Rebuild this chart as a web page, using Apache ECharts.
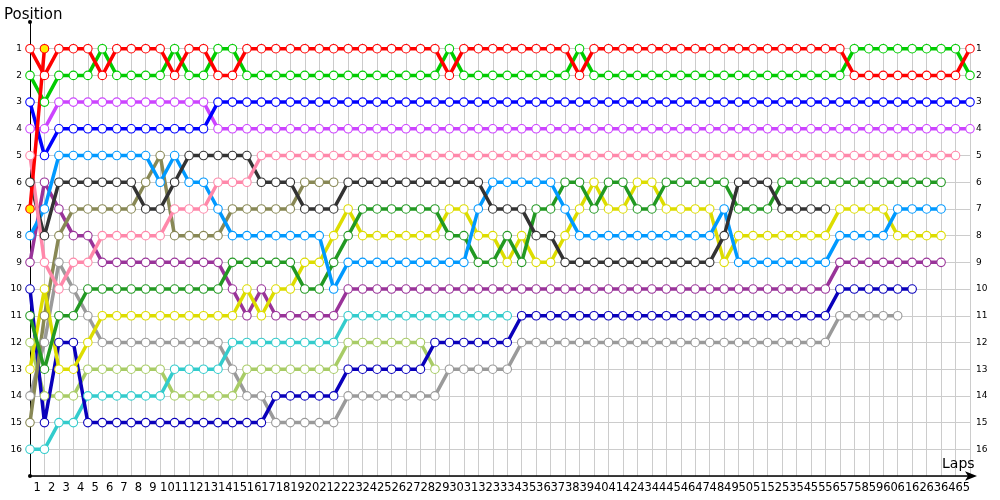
<!DOCTYPE html>
<html><head><meta charset="utf-8">
<script src="https://cdn.jsdelivr.net/npm/echarts@6/dist/echarts.min.js"></script>
<style>html,body{margin:0;padding:0;background:#fff}#c{width:1000px;height:500px}</style>
</head><body><div id="c"></div>
<script>
const lapLabels = ['1','2','3','4','5','6','7','8','9','10','11','12','13','14','15','16','17','18','19','20',
'21','22','23','24','25','26','27','28','29','30','31','32','33','34','35','36','37','38','39','40',
'41','42','43','44','45','46','47','48','49','50','51','52','53','54','55','56','57','58','59','60',
'61','62','63','64','65'];
const positionLabels = ['1','2','3','4','5','6','7','8','9','10','11','12','13','14','15','16'];

// positions per lap, starting at lap 0 (grid)
const redA = [1,2,1,1,1,2,1,1,1,1, 2,1,1,2,2,1,1,1,1,1, 1,1,1,1,1,1,1,1,1,2, 1,1,1,1,1,1,1,1,2,1,
  1,1,1,1,1,1,1,1,1,1, 1,1,1,1,1,1,1,2,2,2, 2,2,2,2,2,1];
const green = [2,3,2,2,2,1,2,2,2,2, 1,2,2,1,1,2,2,2,2,2, 2,2,2,2,2,2,2,2,2,1, 2,2,2,2,2,2,2,2,1,2,
  2,2,2,2,2,2,2,2,2,2, 2,2,2,2,2,2,2,1,1,1, 1,1,1,1,1,2];
const blue = [3,5,4,4,4,4,4,4,4,4, 4,4,4,3,3,3,3,3,3,3, 3,3,3,3,3,3,3,3,3,3, 3,3,3,3,3,3,3,3,3,3,
  3,3,3,3,3,3,3,3,3,3, 3,3,3,3,3,3,3,3,3,3, 3,3,3,3,3,3];
const violet = [4,4,3,3,3,3,3,3,3,3, 3,3,3,4,4,4,4,4,4,4, 4,4,4,4,4,4,4,4,4,4, 4,4,4,4,4,4,4,4,4,4,
  4,4,4,4,4,4,4,4,4,4, 4,4,4,4,4,4,4,4,4,4, 4,4,4,4,4,4];
const pink = [5,9,10,9,9,8,8,8,8,8, 7,7,7,6,6,6,5,5,5,5, 5,5,5,5,5,5,5,5,5,5, 5,5,5,5,5,5,5,5,5,5,
  5,5,5,5,5,5,5,5,5,5, 5,5,5,5,5,5,5,5,5,5, 5,5,5,5,5];
const black = [6,8,6,6,6,6,6,6,7,7, 6,5,5,5,5,5,6,6,6,7, 7,7,6,6,6,6,6,6,6,6, 6,6,7,7,7,8,8,9,9,9,
  9,9,9,9,9,9,9,9,8,6, 6,6,7,7,7,7];
const lightBlue = [8,7,5,5,5,5,5,5,5,6, 5,6,6,7,8,8,8,8,8,8, 8,10,9,9,9,9,9,9,9,9, 9,7,6,6,6,6,6,7,8,8,
  8,8,8,8,8,8,8,8,7,9, 9,9,9,9,9,9,8,8,8,8, 7,7,7,7];
const olive = [15,11,8,7,7,7,7,7,6,5, 8,8,8,8,7,7,7,7,7,6, 6,6];
const darkPurple = [9,6,7,8,8,9,9,9,9,9, 9,9,9,9,10,11,10,11,11,11, 11,11,10,10,10,10,10,10,10,10,
  10,10,10,10,10,10,10,10,10,10, 10,10,10,10,10,10,10,10,10,10, 10,10,10,10,10,10,9,9,9,9, 9,9,9,9];
const darkGreen = [11,13,11,11,10,10,10,10,10,10, 10,10,10,10,9,9,9,9,9,10, 10,9,8,7,7,7,7,7,7,8,
  8,9,9,8,9,7,7,6,6,7, 6,6,7,7,6,6,6,6,6,7, 7,7,6,6,6,6,6,6,6,6, 6,6,6,6];
const yellow = [13,10,13,13,12,11,11,11,11,11, 11,11,11,11,11,10,11,10,10,9, 9,8,7,8,8,8,8,8,8,7,
  7,8,8,9,8,9,9,8,7,6, 7,7,6,6,7,7,7,7,9,8, 8,8,8,8,8,8,7,7,7,7, 8,8,8,8];
const navy = [10,15,12,12,15,15,15,15,15,15, 15,15,15,15,15,15,15,14,14,14, 14,14,13,13,13,13,13,13,12,12,
  12,12,12,12,11,11,11,11,11,11, 11,11,11,11,11,11,11,11,11,11, 11,11,11,11,11,11,10,10,10,10, 10,10];
const gray = [14,12,9,10,11,12,12,12,12,12, 12,12,12,12,13,14,14,15,15,15, 15,15,14,14,14,14,14,14,14,13,
  13,13,13,13,12,12,12,12,12,12, 12,12,12,12,12,12,12,12,12,12, 12,12,12,12,12,12,11,11,11,11, 11];
const cyan = [16,16,15,15,14,14,14,14,14,14, 13,13,13,13,12,12,12,12,12,12, 12,12,11,11,11,11,11,11,11,11,
  11,11,11,11];
const lightGreen = [12,14,14,14,13,13,13,13,13,13, 14,14,14,14,14,13,13,13,13,13, 13,13,12,12,12,12,12,12,13];
const redB = [7,1];

const drivers = [
  {name:'Grey', color:'#9a9a9a', laps:gray},
  {name:'Light green', color:'#a8cc66', laps:lightGreen},
  {name:'Cyan', color:'#33cccc', laps:cyan},
  {name:'Navy', color:'#0a00bb', laps:navy},
  {name:'Dark purple', color:'#993399', laps:darkPurple},
  {name:'Olive', color:'#888855', laps:olive},
  {name:'Yellow', color:'#dddd00', laps:yellow},
  {name:'Dark green', color:'#229922', laps:darkGreen},
  {name:'Light blue', color:'#0099ff', laps:lightBlue},
  {name:'Black', color:'#333333', laps:black},
  {name:'Pink', color:'#ff88aa', laps:pink},
  {name:'Violet', color:'#cc44ff', laps:violet},
  {name:'Blue', color:'#0000ff', laps:blue},
  {name:'Green', color:'#00cc00', laps:green},
  {name:'Red', color:'#ff0000', laps:redA},
  {name:'Red 2', color:'#ff0000', laps:redB, fill:'#ffee00'}
];

const splitColors = ['rgba(0,0,0,0)'];
for (let i = 1; i <= 17; i++) splitColors.push('#cccccc');
const posFmt = v => positionLabels[v - 1] || '';

const chart = echarts.init(document.getElementById('c'), null, {renderer:'canvas'});
chart.setOption({
  animation: false,
  backgroundColor: '#ffffff',
  title: [
    {text:'Position', left:4, top:8, padding:0, textStyle:{fontSize:15, fontWeight:'normal', color:'#000', fontFamily:'DejaVu Sans'}},
    {text:'Laps', left:942, top:457, padding:0, textStyle:{fontSize:14, fontWeight:'normal', color:'#000', fontFamily:'DejaVu Sans'}}
  ],
  grid: [
    {left:30, right:30, top:43, bottom:24},
    {left:30, right:30, top:22, bottom:24}
  ],
  xAxis: [
    {gridIndex:0, type:'value', min:0, max:65, interval:1,
     axisLine:{show:true, onZero:false, lineStyle:{color:'#000', width:1.5}, symbol:['none','arrow'], symbolSize:[7,12], symbolOffset:[0,7]},
     axisTick:{show:false}, axisLabel:{show:false},
     splitLine:{show:true, lineStyle:{color:'#cccccc', width:1}}},
    {gridIndex:1, type:'value', min:0, max:65, show:false},
    {gridIndex:1, type:'category', data:lapLabels, boundaryGap:true, position:'bottom',
     axisLine:{show:false}, axisTick:{show:false}, splitLine:{show:false},
     axisLabel:{interval:0, margin:6, fontSize:11.5, color:'#000', fontFamily:'DejaVu Sans'}}
  ],
  yAxis: [
    {gridIndex:0, type:'value', min:0, max:17, show:false},
    {gridIndex:1, type:'value', inverse:true, min:0, max:17, interval:1, position:'left',
     axisLine:{show:true, onZero:false, lineStyle:{color:'#000', width:1}, symbol:['circle','circle'], symbolSize:[4,4]},
     axisTick:{show:false},
     axisLabel:{formatter:posFmt, margin:8, fontSize:9, color:'#000', fontFamily:'DejaVu Sans'},
     splitLine:{show:true, lineStyle:{color:splitColors, width:1}}},
    {gridIndex:1, type:'value', inverse:true, min:0, max:17, interval:1, position:'right',
     axisLine:{show:false}, axisTick:{show:false}, splitLine:{show:false},
     axisLabel:{formatter:posFmt, margin:6, fontSize:9, color:'#000', fontFamily:'DejaVu Sans'}}
  ],
  series: drivers.map(d => ({
    type:'line', name:d.name, xAxisIndex:1, yAxisIndex:1,
    data: d.laps.map((p, i) => [i, p]),
    symbol:'circle', symbolSize:8.5, showAllSymbol:true,
    lineStyle:{color:d.color, width:3.5},
    itemStyle:{color:d.fill || '#ffffff', borderColor:d.color, borderWidth:1.1},
    emphasis:{disabled:true}
  }))
});
</script></body></html>
